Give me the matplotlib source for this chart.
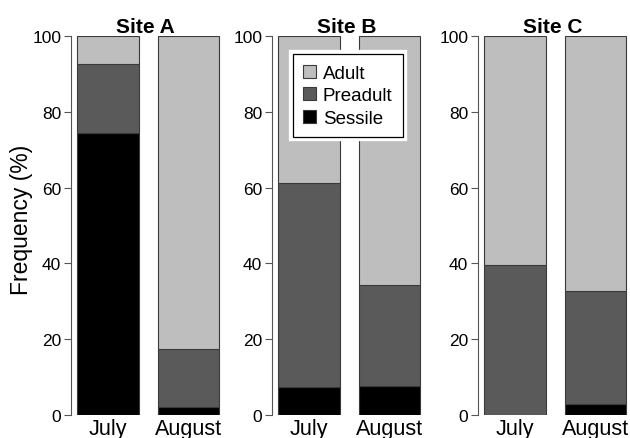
import numpy as np
import matplotlib.pyplot as plt
import matplotlib.patheffects as pe

# values (percent)
sites = ["Site A", "Site B", "Site C"]
months = ["July", "August"]
sessile = [[74.5, 2.0], [7.5, 7.7], [0.0, 2.9]]
preadult = [[18.0, 15.4], [53.6, 26.6], [39.7, 29.8]]
adult = [[7.5, 82.6], [38.9, 65.7], [60.3, 67.3]]

col_adult = "#bebebe"
col_pre = "#5a5a5a"
col_ses = "#000000"
edge = "#3a3a3a"

plt.rcParams['font.family'] = ['Liberation Sans', 'DejaVu Sans']

fig = plt.figure(figsize=(6.3, 4.39), dpi=100)
W, H = 630., 439.
lefts = [71, 272, 478]
x = np.arange(len(months))
xlim = (-0.46, 1.40)
ax_w = (xlim[1] - xlim[0]) * 80.5
bot, top = 416, 37

axes = []
for i, site in enumerate(sites):
    ax = fig.add_axes([lefts[i] / W, 1 - bot / H, ax_w / W, (bot - top) / H])
    s = np.array(sessile[i])
    p = np.array(preadult[i])
    a = np.array(adult[i])
    ax.bar(x, s, width=0.76, color=col_ses, edgecolor=edge, linewidth=0.8, label="Sessile")
    ax.bar(x, p, width=0.76, bottom=s, color=col_pre, edgecolor=edge, linewidth=0.8, label="Preadult")
    ax.bar(x, a, width=0.76, bottom=s + p, color=col_adult, edgecolor=edge, linewidth=0.8, label="Adult")
    ax.set_xlim(*xlim)
    ax.set_ylim(0, 100)
    ax.set_yticks(np.arange(0, 101, 20))
    ax.set_xticks(x)
    ax.set_xticklabels(months, fontsize=15.5)
    ax.tick_params(axis='x', length=0, pad=2)
    ax.tick_params(axis='y', length=5, width=0.8, color="#555555", labelsize=12.5, pad=2)
    for sp in ["top", "right", "bottom"]:
        ax.spines[sp].set_visible(False)
    ax.spines["left"].set_color("#555555")
    ax.spines["left"].set_linewidth(0.8)
    ax.set_title(site, fontsize=15, fontweight="bold", pad=3)
    axes.append(ax)

fig.text(22 / W, 1 - 220 / H, "Frequency (%)", rotation=90, ha="center", va="center",
         fontsize=16.5)

h, l = axes[1].get_legend_handles_labels()
leg = axes[1].legend(h[::-1], l[::-1], loc="upper left", bbox_to_anchor=(0.14, 0.952),
                     fontsize=13.5, frameon=True, fancybox=False, handlelength=0.7,
                     handleheight=0.7, handletextpad=0.35, borderpad=0.55,
                     labelspacing=0.3, borderaxespad=0)
fr = leg.get_frame()
fr.set_edgecolor("black")
fr.set_linewidth(0.9)
fr.set_facecolor("white")
fr.set_alpha(1)
fr.set_path_effects([pe.withStroke(linewidth=6, foreground="white")])

fig.savefig("out.png", dpi=100)
